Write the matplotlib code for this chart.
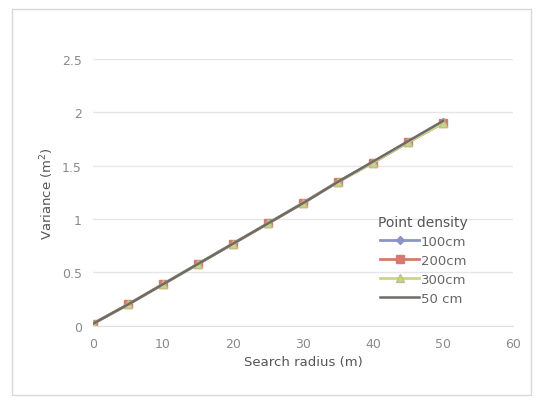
import matplotlib.pyplot as plt
from matplotlib.patches import Rectangle

# search radius (m)
radius = [0, 5, 10, 15, 20, 25, 30, 35, 40, 45, 50]
# variance (m^2) per point density
var_100 = [0.02, 0.20, 0.39, 0.58, 0.77, 0.96, 1.15, 1.35, 1.53, 1.72, 1.91]
var_200 = [0.02, 0.20, 0.39, 0.58, 0.77, 0.96, 1.15, 1.35, 1.53, 1.72, 1.90]
var_300 = [0.02, 0.20, 0.39, 0.58, 0.77, 0.96, 1.15, 1.35, 1.53, 1.72, 1.90]
var_50 = [0.02, 0.20, 0.39, 0.58, 0.77, 0.96, 1.15, 1.35, 1.54, 1.73, 1.92]

fig = plt.figure(figsize=(5.44, 4.06), dpi=100)
ax = fig.add_axes([0.171, 0.195, 0.772, 0.657])

# faint chart border
fig.patches.append(Rectangle((0.022, 0.025), 0.955, 0.95, transform=fig.transFigure,
                             fill=False, edgecolor='#d8d8d8', lw=1))

ax.plot(radius, var_100, color='#8c94c4', marker='D', ms=4, lw=2, label='100cm')
ax.plot(radius, var_200, color='#d47a6e', marker='s', ms=6, lw=2, label='200cm')
ax.plot(radius, var_300, color='#c9d68a', marker='^', ms=6, mec='#c0c080', lw=2, label='300cm')
ax.plot(radius, var_50, color='#6e6a6a', lw=1.8, label='50 cm')

ax.set_xlim(0, 60)
ax.set_ylim(0, 2.5)
ax.set_xticks(range(0, 61, 10))
ax.set_yticks([0, 0.5, 1, 1.5, 2, 2.5])
ax.set_yticklabels(['0', '0.5', '1', '1.5', '2', '2.5'])
ax.grid(axis='y', color='#e6e6e6', lw=1)
ax.set_axisbelow(True)
for s in ['top', 'right', 'left']:
    ax.spines[s].set_visible(False)
ax.spines['bottom'].set_color('#e0e0e0')
ax.tick_params(length=0, colors='#8a8a8a', labelsize=9, pad=8)

ax.set_xlabel('Search radius (m)', color='#555555', fontsize=9.5)
ax.set_ylabel('Variance (m$^2$)', color='#555555', fontsize=9.5)

leg = ax.legend(title='Point density', loc='lower right', bbox_to_anchor=(0.905, 0.06),
                frameon=False, fontsize=9.5, title_fontsize=10, handlelength=3.0,
                labelspacing=0.45, handletextpad=0.1, borderaxespad=0)
leg.get_title().set_color('#555555')
for t in leg.get_texts():
    t.set_color('#666666')

fig.savefig('out.png', dpi=100)
